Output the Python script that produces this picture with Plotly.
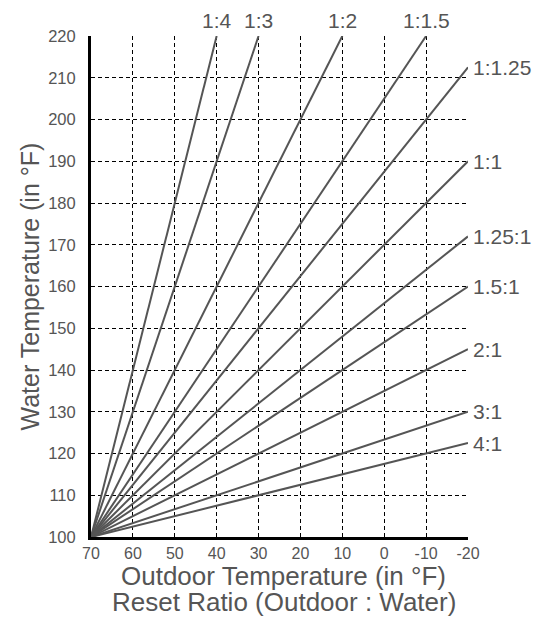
import plotly.graph_objects as go

# Reset ratio lines, all starting at (70 °F outdoor, 100 °F water)
ratio_labels = ["1:4", "1:3", "1:2", "1:1.5", "1:1.25", "1:1", "1.25:1", "1.5:1", "2:1", "3:1", "4:1"]
start_outdoor = 70
start_water = 100
end_outdoor = [40, 30, 10, -10, -20, -20, -20, -20, -20, -20, -20]
end_water = [220, 220, 220, 220, 212.5, 190, 172, 160, 145, 130, 122.5]
label_on_top = [True, True, True, True, False, False, False, False, False, False, False]

x_ticks = [70, 60, 50, 40, 30, 20, 10, 0, -10, -20]
y_ticks = [100, 110, 120, 130, 140, 150, 160, 170, 180, 190, 200, 210, 220]

x_title = "Outdoor Temperature (in °F)"
x_subtitle = "Reset Ratio (Outdoor : Water)"
y_title = "Water Temperature (in °F)"

FONT = "Arial"
GRAY = "#555555"

fig = go.Figure()
for lab, xe, ye, top in zip(ratio_labels, end_outdoor, end_water, label_on_top):
    fig.add_trace(go.Scatter(
        x=[start_outdoor, xe], y=[start_water, ye], mode="lines",
        line=dict(color=GRAY, width=2), showlegend=False, hoverinfo="skip",
        cliponaxis=False,
    ))
    if top:
        fig.add_annotation(x=xe, y=ye, text=lab, showarrow=False,
                           xanchor="center", yanchor="bottom", yshift=2,
                           font=dict(family=FONT, size=21, color=GRAY))
    else:
        fig.add_annotation(x=xe, y=ye, text=lab, showarrow=False,
                           xanchor="left", yanchor="middle", xshift=3,
                           font=dict(family=FONT, size=21, color=GRAY))

# axis titles
fig.add_annotation(xref="paper", yref="paper", x=0.5, y=0, xshift=4, yshift=-39,
                   text=x_title, showarrow=False, xanchor="center", yanchor="middle",
                   borderpad=0, font=dict(family=FONT, size=26, color=GRAY))
fig.add_annotation(xref="paper", yref="paper", x=0.5, y=0, xshift=4, yshift=-65,
                   text=x_subtitle, showarrow=False, xanchor="center", yanchor="middle",
                   borderpad=0, font=dict(family=FONT, size=26, color=GRAY))
fig.add_annotation(xref="paper", yref="paper", x=0, y=0.5, xshift=-62, yshift=0,
                   text=y_title, showarrow=False, xanchor="center", yanchor="middle",
                   textangle=-90, font=dict(family=FONT, size=25, color=GRAY))

grid = dict(showgrid=True, gridcolor="black", gridwidth=1, griddash="4px,3px")

fig.update_xaxes(
    range=[70, -20], tickvals=x_ticks, ticktext=[str(v) for v in x_ticks],
    showline=True, linecolor="black", linewidth=3, mirror=False,
    zeroline=False, ticks="", ticklabelstandoff=0, automargin=False,
    tickfont=dict(family=FONT, size=16, color=GRAY),
    **grid,
)
fig.update_yaxes(
    range=[100, 220], tickvals=y_ticks, ticktext=[str(v) for v in y_ticks],
    showline=True, linecolor="black", linewidth=3, mirror=False,
    zeroline=False, ticks="", ticklabelstandoff=9, automargin=False,
    tickfont=dict(family=FONT, size=16.5, color=GRAY),
    **grid,
)

# page adds an 8px body margin, so the figure is 8px smaller and margins shifted
fig.update_layout(
    width=540, height=609,
    margin=dict(l=83, r=80, t=28, b=80),
    paper_bgcolor="white", plot_bgcolor="white",
)

fig.write_html("out.html")
